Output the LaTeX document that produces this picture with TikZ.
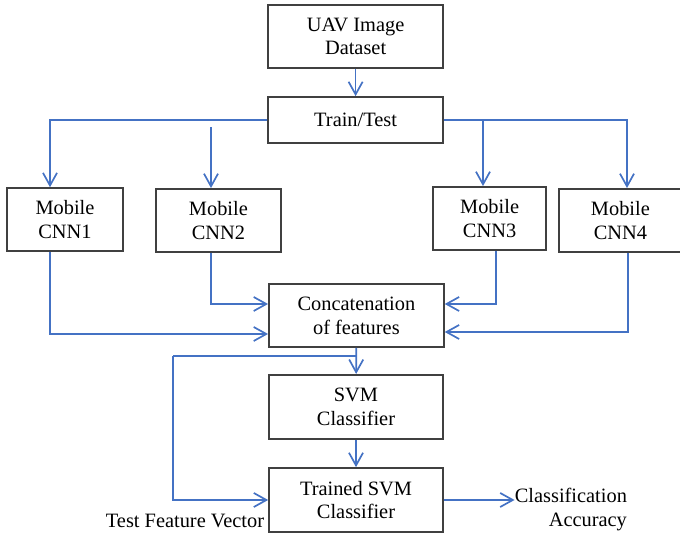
\documentclass[tikz,border=0pt]{standalone}
\usepackage{fontspec}
\setmainfont{Liberation Serif}
\usetikzlibrary{arrows.meta}
\definecolor{linkblue}{RGB}{68,114,196}
\definecolor{boxgray}{RGB}{64,64,64}
\begin{document}
\begin{tikzpicture}[
    box/.style={draw=boxgray,line width=1.2pt,align=center,inner sep=2pt},
    link/.style={draw=linkblue,line width=1.2pt},
    arr/.style={link,-{Straight Barb[length=9pt,width=10pt,line width=1.2pt]}},
    font=\fontsize{14.5}{17}\selectfont]
        \useasboundingbox(0,0)rectangle(17,13.4);
        \foreach \n/\x/\y/\w/\h/\t in {
        data/8.89/12.49/4.375/1.575/{UAV Image\\Dataset},
        split/8.89/10.4/4.375/1.15/{Train/Test},
        cnn1/1.625/7.91/2.9/1.575/{Mobile\\CNN1},
        cnn2/5.46/7.89/3.125/1.575/{Mobile\\CNN2},
        cnn3/12.24/7.94/2.825/1.575/{Mobile\\CNN3},
        cnn4/15.51/7.89/3.075/1.575/{Mobile\\CNN4},
        concat/8.91/5.51/4.375/1.575/{Concatenation\\of features},
        svm/8.9/3.23/4.35/1.6/{SVM\\Classifier},
        tsvm/8.9/0.9/4.35/1.6/{Trained SVM\\Classifier}}{
            \node[box,minimum width=\w cm,minimum height=\h cm](\n)at(\x,\y){\t};
        }
        \node[inner sep=0pt](tfv)at(4.625,0.375){Test Feature Vector};
        \node[inner sep=0pt,align=right,anchor=east](acc)at(15.68,0.66){Classification\\Accuracy};
        % split into the four networks
        \draw[arr](data)--(split);
        \draw[arr](split.west)-|([xshift=-0.375cm]cnn1.north);
        \coordinate(b2)at(5.275,10.22);
        \draw[arr](b2)--(b2|-cnn2.north);
        \draw[arr](split.east)-|([xshift=0.165cm]cnn4.north);
        \coordinate(b3)at([xshift=-0.165cm]cnn3.north);
        \draw[arr](b3|-split.east)--(b3);
        % features
        \draw[arr]([xshift=-0.375cm]cnn1.south)|-([yshift=-0.46cm]concat.west);
        \draw[arr]([xshift=-0.19cm]cnn2.south)|-([yshift=0.29cm]concat.west);
        \draw[arr]([xshift=0.16cm]cnn3.south)|-([yshift=0.29cm]concat.east);
        \draw[arr]([xshift=0.19cm]cnn4.south)|-([yshift=-0.41cm]concat.east);
        \draw[arr](concat)--(svm);
        \draw[arr](svm)--(tsvm);
        % test vector
        \coordinate(tf)at(4.325,4.5);
        \draw[link](tf)--(concat.south|-tf);
        \draw[arr](tf)|-(tsvm.west);
        \draw[arr](tsvm.east)--(tsvm.east-|acc.west);
    \end{tikzpicture}
\end{document}
